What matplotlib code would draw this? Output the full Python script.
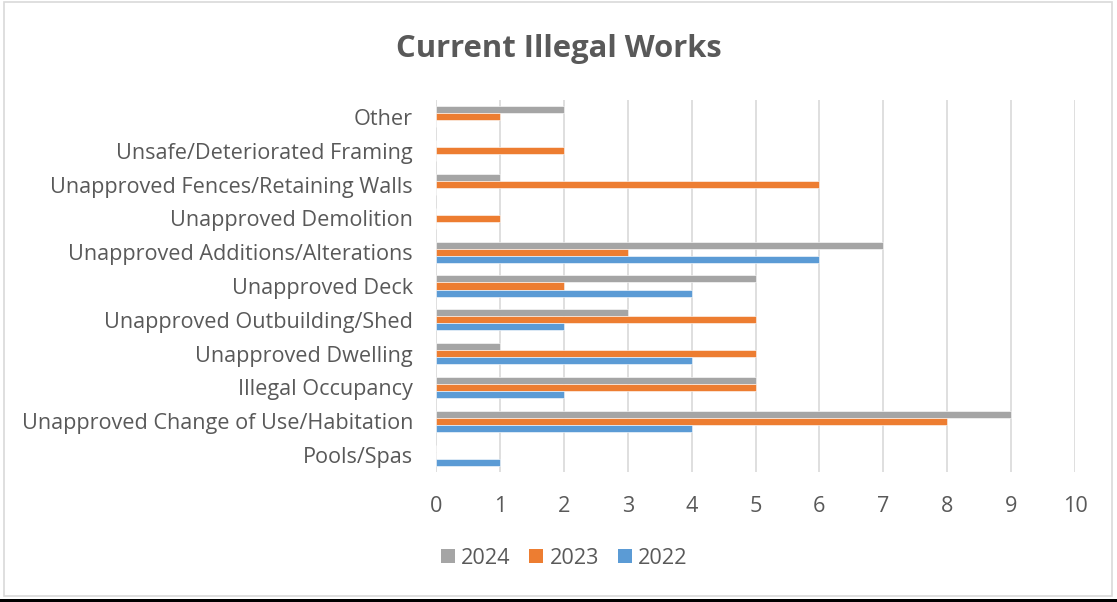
import matplotlib
matplotlib.use("Agg")
import matplotlib.pyplot as plt
import numpy as np
from matplotlib.patches import Rectangle

categories = ["Pools/Spas", "Unapproved Change of Use/Habitation", "Illegal Occupancy",
              "Unapproved Dwelling", "Unapproved Outbuilding/Shed", "Unapproved Deck",
              "Unapproved Additions/Alterations", "Unapproved Demolition",
              "Unapproved Fences/Retaining Walls", "Unsafe/Deteriorated Framing", "Other"]
v2022 = [1, 4, 2, 4, 2, 4, 6, 0, 0, 0, 0]
v2023 = [0, 8, 5, 5, 5, 2, 3, 1, 6, 2, 1]
v2024 = [0, 9, 5, 1, 3, 5, 7, 0, 1, 0, 2]
years = ["2024", "2023", "2022"]
xticks = list(range(0, 11))

C24, C23, C22 = "#A5A5A5", "#ED7D31", "#5B9BD5"
TXT = "#595959"
FONT = ["Open Sans", "DejaVu Sans"]
plt.rcParams["font.family"] = FONT

W, H = 1117, 602
fig = plt.figure(figsize=(W / 100, H / 100), dpi=100)
fig.patch.set_facecolor("white")

# outer frame
fig.add_artist(Rectangle((4 / W, 1 - 596 / H), 1108 / W, 594 / H, transform=fig.transFigure,
                         fill=False, edgecolor="#D9D9D9", linewidth=1.2))
fig.add_artist(Rectangle((0, 0), 1, 3 / H, transform=fig.transFigure,
                         facecolor="black", edgecolor="none"))

left, right, top, bottom = 436, 1075, 100, 472
ax = fig.add_axes([left / W, 1 - bottom / H, (right - left) / W, (bottom - top) / H])
y = np.arange(len(categories))
h = 0.207
ax.barh(y + h, v2024, height=h, color=C24, edgecolor="white", linewidth=0.4, zorder=3)
ax.barh(y, v2023, height=h, color=C23, edgecolor="white", linewidth=0.4, zorder=3)
ax.barh(y - h, v2022, height=h, color=C22, edgecolor="white", linewidth=0.4, zorder=3)
ax.set_xlim(0, 10)
ax.set_ylim(-0.5, len(categories) - 0.5)
ax.set_xticks(xticks)
ax.set_xticklabels([str(t) for t in xticks])
ax.set_yticks(y)
ax.set_yticklabels(categories)
ax.grid(axis="x", color="#D9D9D9", linewidth=1.2, zorder=0)
for s in ax.spines.values():
    s.set_visible(False)
ax.tick_params(axis="both", length=0, colors=TXT, labelsize=15.6)
ax.tick_params(axis="x", pad=17.5)
ax.tick_params(axis="y", pad=16.5)

fig.text(559 / W, 1 - 49 / H, "Current Illegal Works", ha="center", va="center",
         fontsize=22.3, fontweight="bold", color=TXT)

handles = [Rectangle((0, 0), 1, 1, facecolor=c, edgecolor="none") for c in (C24, C23, C22)]
fig.legend(handles, years, loc="center", bbox_to_anchor=(564 / W, 1 - 558 / H), ncol=3,
           frameon=False, fontsize=15.6, labelcolor=TXT, handlelength=0.65, handleheight=0.65,
           handletextpad=0.28, columnspacing=0.88)

fig.savefig("out.png", dpi=100, facecolor="white")
